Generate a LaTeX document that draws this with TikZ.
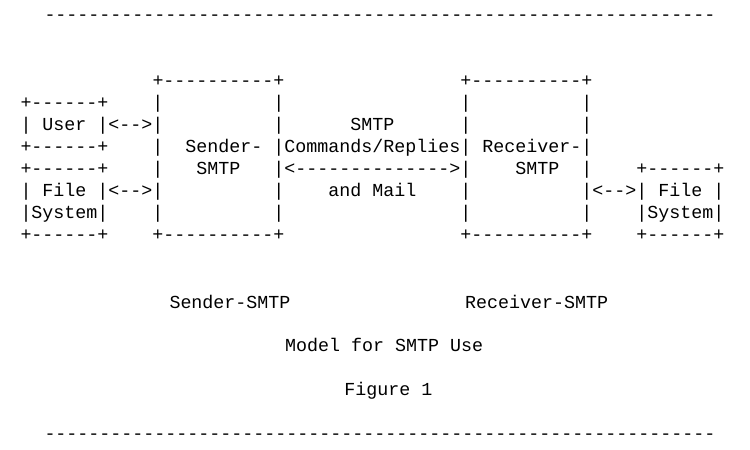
\documentclass[tikz,border=0pt]{standalone}
\usepackage{fontspec}
\setmonofont{Liberation Mono}
\newlength\charw
\setlength\charw{11pt}
\newcommand\gap[1]{\hspace*{#1\charw}}
\begin{document}
\begin{tikzpicture}[x=1pt,y=-1pt,
  asc/.style={inner sep=0pt,outer sep=0pt,anchor=base west,text=black,
    font=\ttfamily\fontsize{18.33pt}{22pt}\selectfont},
  lbl/.style={inner sep=0pt,outer sep=0pt,anchor=base,text=black,
    font=\ttfamily\fontsize{18.33pt}{22pt}\selectfont}]
\fill[white] (0,0) rectangle (750,450);
\useasboundingbox (0,0) rectangle (750,450);
% top rule
\node[asc] (topline) at (44.5,20.45) {-------------------------------------------------------------};
% diagram rows
\node[asc] (rowA) at (20.5,86.6) {\gap{12}+----------+\gap{16}+----------+};
\node[asc] (rowB) at (20.5,{86.6+22.05*1}) {+------+\gap{4}|\gap{10}|\gap{16}|\gap{10}|};
\node[asc] (rowC) at (20.5,{86.6+22.05*2}) {| User |<-->|\gap{10}|\gap{6}SMTP\gap{6}|\gap{10}|};
\node[asc] (rowD) at (20.5,{86.6+22.05*3}) {+------+\gap{4}|\gap{2}Sender-\gap{1}|Commands/Replies|\gap{1}Receiver-|};
\node[asc] (rowE) at (20.5,{86.6+22.05*4}) {+------+\gap{4}|\gap{3}SMTP\gap{3}|<-------------->|\gap{4}SMTP\gap{2}|\gap{4}+------+};
\node[asc] (rowF) at (20.5,{86.6+22.05*5}) {| File |<-->|\gap{10}|\gap{4}and Mail\gap{4}|\gap{10}|<-->| File |};
\node[asc] (rowG) at (20.5,{86.6+22.05*6}) {|System|\gap{4}|\gap{10}|\gap{16}|\gap{10}|\gap{4}|System|};
\node[asc] (rowH) at (20.5,{86.6+22.05*7}) {+------+\gap{4}+----------+\gap{16}+----------+\gap{4}+------+};
% labels
\node[lbl] (senderlabel) at (230,308) {Sender-SMTP};
\node[lbl] (receiverlabel) at (536.7,308) {Receiver-SMTP};
\node[lbl] (caption) at (384.2,351.3) {Model for SMTP Use};
\node[lbl] (figlabel) at (388.3,395) {Figure 1};
% bottom rule
\node[asc] (bottomline) at (44.5,439.4) {-------------------------------------------------------------};
\end{tikzpicture}
\end{document}
